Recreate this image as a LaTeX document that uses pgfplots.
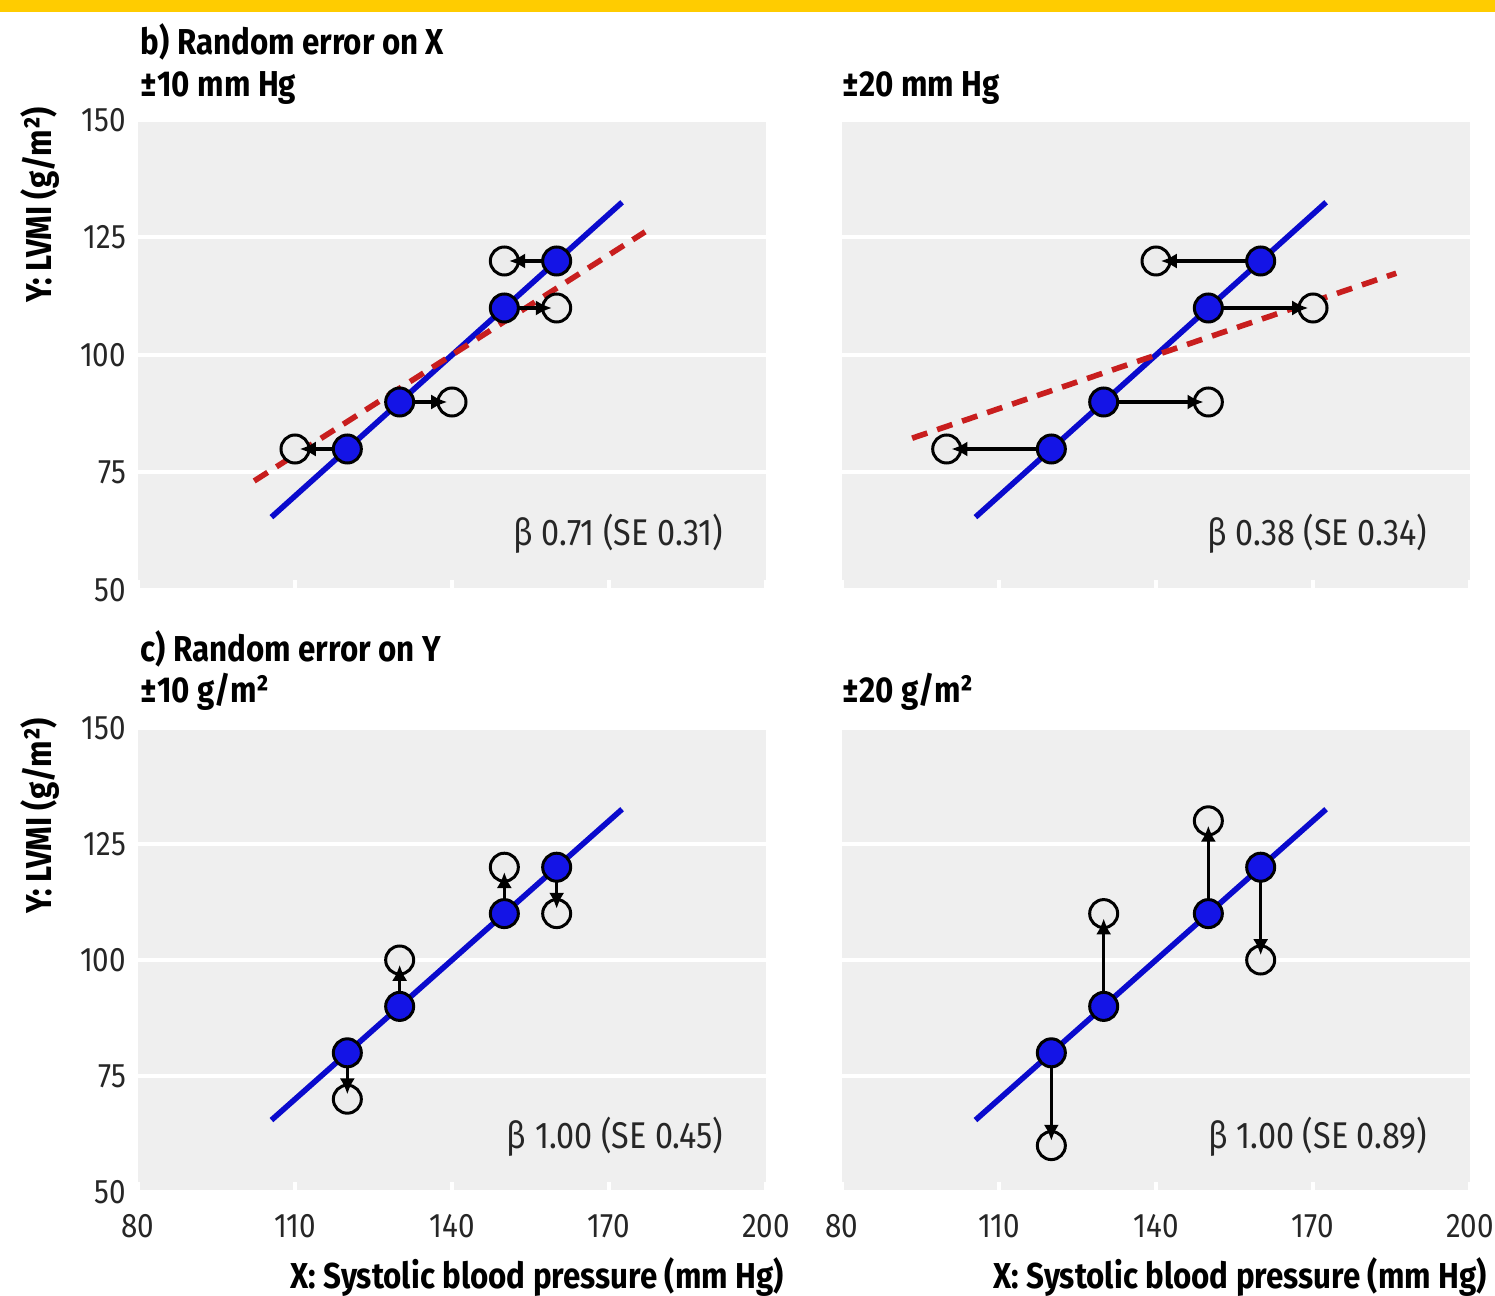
\documentclass[border=0pt]{standalone}
\usepackage{fontspec}
\setmainfont{Fira Sans}[FakeStretch=0.87]
\usepackage{pgfplots}
\pgfplotsset{compat=1.18}
\usetikzlibrary{arrows.meta}

\definecolor{panelbg}{HTML}{EFEFEF}
\definecolor{trueline}{HTML}{0A0ACD}
\definecolor{fitline}{HTML}{C81E1E}
\definecolor{ptblue}{HTML}{1414E6}
\definecolor{bmjyellow}{HTML}{FFCC00}

\pgfplotsset{
  panel/.style={
    scale only axis, width=157pt,
    xmin=80, xmax=200, ymin=50, ymax=150,
    xtick={80,110,...,200}, ytick={50,75,...,150},
    axis background/.style={fill=panelbg},
    axis line style={draw=none},
    ymajorgrids, major grid style={white, line width=1pt},
    tick align=inside, xtick pos=bottom, ytick pos=left,
    xtick style={white, line width=1pt}, ytick style={draw=none},
    major tick length=2.5pt,
    /pgf/number format/assume math mode=true,
    ticklabel style={font=\fontsize{8.5}{9}\selectfont, text=black!85},
    xticklabel style={yshift=-2pt},
    yticklabel style={xshift=0.5pt},
    clip=false, clip marker paths=true,
  },
  truefit/.style={trueline, line width=1.4pt},
  obsfit/.style={fitline, line width=1.4pt, dash pattern=on 4pt off 2.6pt},
  hollow/.style={only marks, mark=*, mark size=3.5pt,
    mark options={fill=gray!15, draw=black, line width=0.75pt}},
  truept/.style={only marks, mark=*, mark size=3.5pt,
    mark options={fill=ptblue, draw=black, line width=0.75pt}},
  err/.style={black, line width=0.85pt, -{Latex[length=4pt,width=3.8pt]}, shorten >=1.2pt},
}

\newcommand{\betanote}[1]{\node[anchor=east, font=\fontsize{9.3}{10}\selectfont, text=black!85] at (axis cs:194.5,62) {β #1};}

\begin{document}
\begin{tikzpicture}
\path[use as bounding box] (0,0) rectangle (373.75pt,323.75pt);
\fill[bmjyellow] (0,320.75pt) rectangle (373.75pt,323.75pt);

% b) random error on X, +-10
\begin{axis}[panel, height=117.5pt, at={(34.5pt,176.25pt)}, xticklabels={}]
\addplot[truefit] coordinates {(105.5,65.5) (172.5,132.5)};
\addplot[obsfit] coordinates {(102.2,73.2) (176.9,126.2)};
\addplot[hollow] coordinates {(110,80) (140,90) (150,120) (160,110)};
\addplot[err] coordinates {(120,80) (110,80)};
\addplot[err] coordinates {(130,90) (140,90)};
\addplot[err] coordinates {(160,120) (150,120)};
\addplot[err] coordinates {(150,110) (160,110)};
\addplot[truept] coordinates {(120,80) (130,90) (150,110) (160,120)};
\betanote{0.71 (SE 0.31)}
\end{axis}

% b) random error on X, +-20
\begin{axis}[panel, height=117.5pt, at={(210.5pt,176.25pt)}, xticklabels={}, yticklabels={}]
\addplot[truefit] coordinates {(105.5,65.5) (172.5,132.5)};
\addplot[obsfit] coordinates {(93.4,82.3) (185.9,117.4)};
\addplot[hollow] coordinates {(100,80) (150,90) (140,120) (170,110)};
\addplot[err] coordinates {(120,80) (100,80)};
\addplot[err] coordinates {(130,90) (150,90)};
\addplot[err] coordinates {(160,120) (140,120)};
\addplot[err] coordinates {(150,110) (170,110)};
\addplot[truept] coordinates {(120,80) (130,90) (150,110) (160,120)};
\betanote{0.38 (SE 0.34)}
\end{axis}

% c) random error on Y, +-10
\begin{axis}[panel, height=116pt, at={(34.5pt,25.75pt)}]
\addplot[truefit] coordinates {(105.5,65.5) (172.5,132.5)};
\addplot[hollow] coordinates {(120,70) (130,100) (150,120) (160,110)};
\addplot[err] coordinates {(120,80) (120,70)};
\addplot[err] coordinates {(130,90) (130,100)};
\addplot[err] coordinates {(150,110) (150,120)};
\addplot[err] coordinates {(160,120) (160,110)};
\addplot[truept] coordinates {(120,80) (130,90) (150,110) (160,120)};
\betanote{1.00 (SE 0.45)}
\end{axis}

% c) random error on Y, +-20
\begin{axis}[panel, height=116pt, at={(210.5pt,25.75pt)}, yticklabels={}]
\addplot[truefit] coordinates {(105.5,65.5) (172.5,132.5)};
\addplot[hollow] coordinates {(120,60) (130,110) (150,130) (160,100)};
\addplot[err] coordinates {(120,80) (120,60)};
\addplot[err] coordinates {(130,90) (130,110)};
\addplot[err] coordinates {(150,110) (150,130)};
\addplot[err] coordinates {(160,120) (160,100)};
\addplot[truept] coordinates {(120,80) (130,90) (150,110) (160,120)};
\betanote{1.00 (SE 0.89)}
\end{axis}

\begin{scope}[every node/.style={font=\bfseries\fontsize{9}{10}\selectfont, inner sep=0pt}]
\node[anchor=base west] at (35pt,310pt) {b) Random error on X};
\node[anchor=base west] at (35pt,299.5pt) {±10 mm Hg};
\node[anchor=base west] at (210.5pt,299.5pt) {±20 mm Hg};
\node[anchor=base west] at (35pt,158.25pt) {c) Random error on Y};
\node[anchor=base west] at (35pt,148pt) {±10 g/m²};
\node[anchor=base west] at (210.5pt,148pt) {±20 g/m²};
\node[rotate=90] at (10pt,272.5pt) {Y: LVMI (g/m²)};
\node[rotate=90] at (10pt,119.75pt) {Y: LVMI (g/m²)};
\node at (134.25pt,4.5pt) {X: Systolic blood pressure (mm Hg)};
\node at (310pt,4.5pt) {X: Systolic blood pressure (mm Hg)};
\end{scope}
\end{tikzpicture}
\end{document}
